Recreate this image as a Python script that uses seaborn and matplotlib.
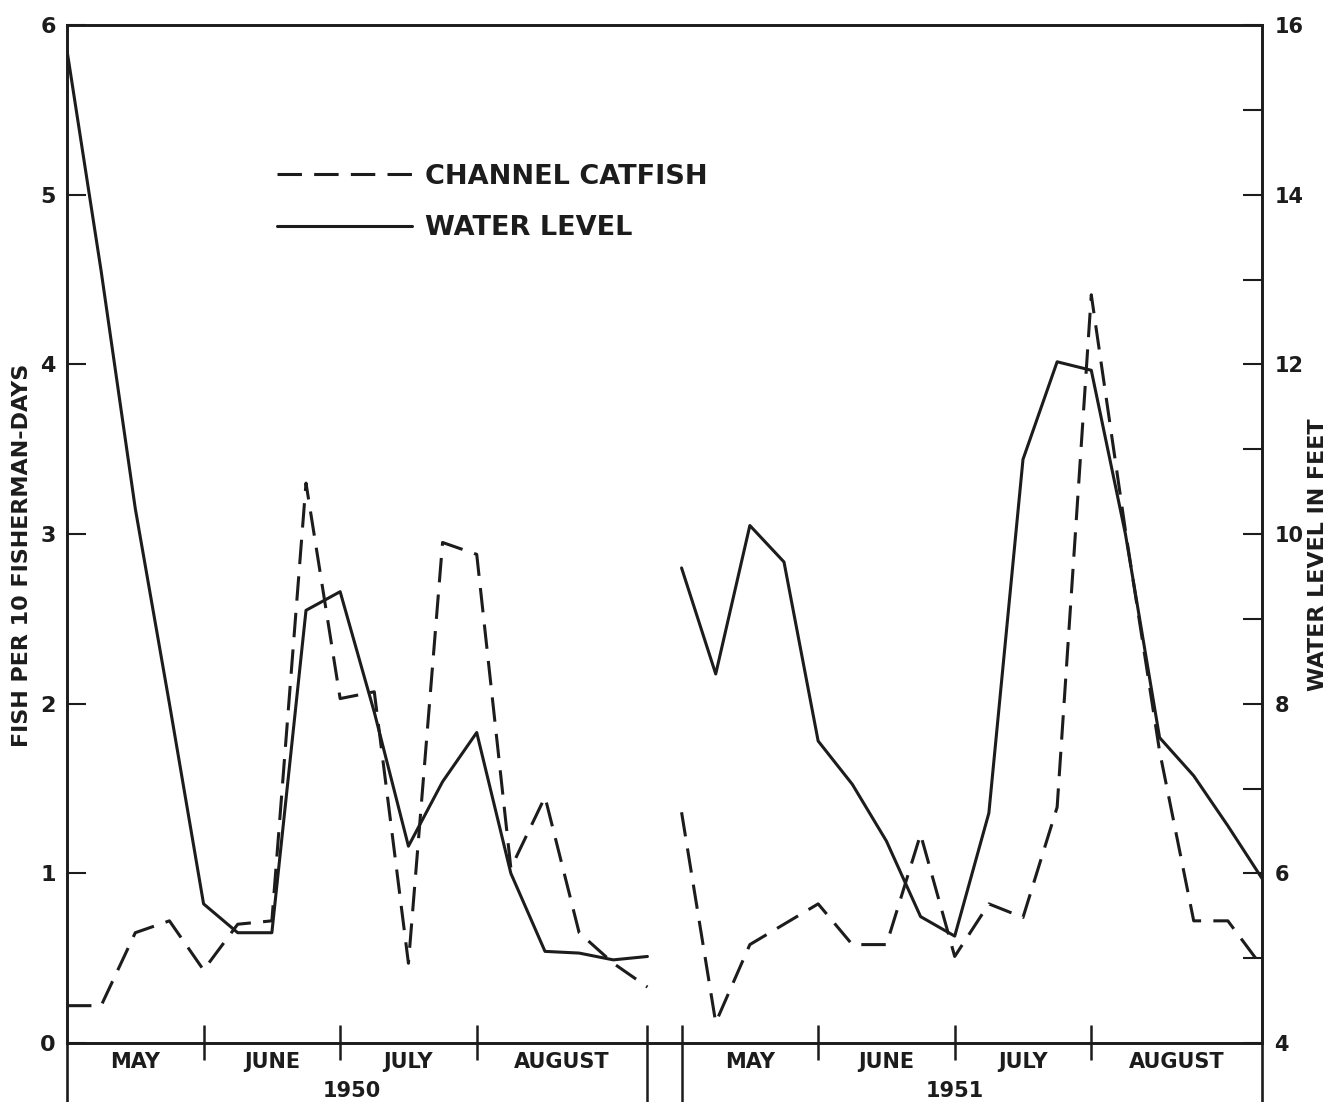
import numpy as np
import pandas as pd
import matplotlib
matplotlib.use("Agg")
import matplotlib.pyplot as plt
from matplotlib.lines import Line2D
import seaborn as sns

# weekly samples, May-August; 1950 on weeks 0-17, 1951 on weeks 18-35
weeks_1950 = [0, 1, 2, 3, 4, 5, 6, 7, 8, 9, 10, 11, 12, 13, 14, 15, 16, 17]
weeks_1951 = [18, 19, 20, 21, 22, 23, 24, 25, 26, 27, 28, 29, 30, 31, 32, 33, 34, 35]

# fish per 10 fisherman-days (left axis)
catfish_1950 = [0.22, 0.22, 0.65, 0.72, 0.43, 0.70, 0.72, 3.30, 2.03, 2.07,
                0.47, 2.95, 2.88, 1.03, 1.45, 0.65, 0.47, 0.33]
catfish_1951 = [1.36, 0.12, 0.58, 0.70, 0.82, 0.58, 0.58, 1.23, 0.51, 0.82,
                0.74, 1.39, 4.41, 3.02, 1.72, 0.72, 0.72, 0.45]

# water level in feet (right axis)
water_1950 = [15.7, 13.1, 10.3, 8.0, 5.64, 5.3, 5.3, 9.1, 9.32, 7.9,
              6.32, 7.08, 7.66, 6.0, 5.08, 5.06, 4.98, 5.02]
water_1951 = [9.6, 8.35, 10.1, 9.67, 7.56, 7.05, 6.38, 5.49, 5.26, 6.71,
              10.88, 12.03, 11.93, 10.0, 7.6, 7.15, 6.56, 5.94]

months = ['MAY', 'JUNE', 'JULY', 'AUGUST']
month_centers = [2, 6, 10, 14.5, 20, 24, 28, 32.5]
month_bounds = [4, 8, 12, 22, 26, 30]
season_breaks = [17, 18]
years = ['1950', '1951']
year_pos = [8.35, 26.0]

df = pd.DataFrame({
    'week': weeks_1950 + weeks_1951,
    'year': ['1950'] * len(weeks_1950) + ['1951'] * len(weeks_1951),
    'catfish': catfish_1950 + catfish_1951,
    'water': water_1950 + water_1951,
})

sns.set_style('white')
plt.rcParams['font.family'] = ['DejaVu Sans']
INK = '#1c1c1c'
LW = 2.2
DASH = (0, (8, 4))

fig = plt.figure(figsize=(13.34, 11.02), dpi=100)
ax = fig.add_axes([67 / 1334, 59 / 1102, 1195 / 1334, 1018 / 1102])
ax2 = ax.twinx()

sns.lineplot(data=df, x='week', y='catfish', units='year', estimator=None,
             ax=ax, color=INK, lw=LW, linestyle=DASH)
sns.lineplot(data=df, x='week', y='water', units='year', estimator=None,
             ax=ax2, color=INK, lw=LW)

ax.set_xlim(0, 35)
ax.set_ylim(0, 6)
ax2.set_ylim(4, 16)
ax.set_xlabel('')
ax.set_ylabel('')
ax2.set_ylabel('')
ax.set_xticks([])

for a in (ax, ax2):
    for s in a.spines.values():
        s.set_color(INK)
        s.set_linewidth(1.9)

ax.set_yticks(range(0, 7))
ax.tick_params(axis='y', direction='in', length=14, width=1.5, color=INK,
               labelsize=16, pad=8, labelcolor=INK)
for t in ax.get_yticklabels():
    t.set_fontweight('bold')

ax2.set_yticks(range(4, 17, 2))
ax2.set_yticks(range(5, 17, 2), minor=True)
ax2.tick_params(axis='y', which='both', direction='in', length=14, width=1.5,
                color=INK, labelsize=15, pad=9, labelcolor=INK)
for t in ax2.get_yticklabels():
    t.set_fontweight('bold')

# month dividers crossing the base line, season breaks and spine stubs below
xt = ax.get_xaxis_transform()
ax.vlines(month_bounds, -0.017, 0.018, transform=xt, color=INK, lw=1.8, clip_on=False)
ax.vlines(season_breaks, -0.058, 0.018, transform=xt, color=INK, lw=1.8, clip_on=False)
ax.vlines([0, 35], -0.058, 0, transform=xt, color=INK, lw=1.9, clip_on=False)

for i, c in enumerate(month_centers):
    ax.text(c, -0.019, months[i % 4], transform=xt, ha='center', va='center',
            fontsize=15, fontweight='bold', color=INK)
for y, p in zip(years, year_pos):
    ax.text(p, -0.047, y, transform=xt, ha='center', va='center',
            fontsize=15, fontweight='bold', color=INK)

fig.text(22 / 1334, 1 - 555 / 1102, 'FISH PER 10 FISHERMAN-DAYS', rotation=90,
         ha='center', va='center', fontsize=16, fontweight='bold', color=INK)
fig.text(1318 / 1334, 1 - 555 / 1102, 'WATER LEVEL IN FEET', rotation=90,
         ha='center', va='center', fontsize=16, fontweight='bold', color=INK)

handles = [Line2D([], [], color=INK, lw=LW, linestyle=DASH),
           Line2D([], [], color=INK, lw=LW)]
ax.legend(handles, ['CHANNEL CATFISH', 'WATER LEVEL'], loc='center left',
          bbox_to_anchor=(0.1757, 0.8257), frameon=False, borderpad=0,
          borderaxespad=0, handlelength=5.0, handletextpad=0.45,
          labelspacing=0.95, prop={'size': 19.5, 'weight': 'bold'}, labelcolor=INK)

fig.savefig('out.png', dpi=100, facecolor='white')
